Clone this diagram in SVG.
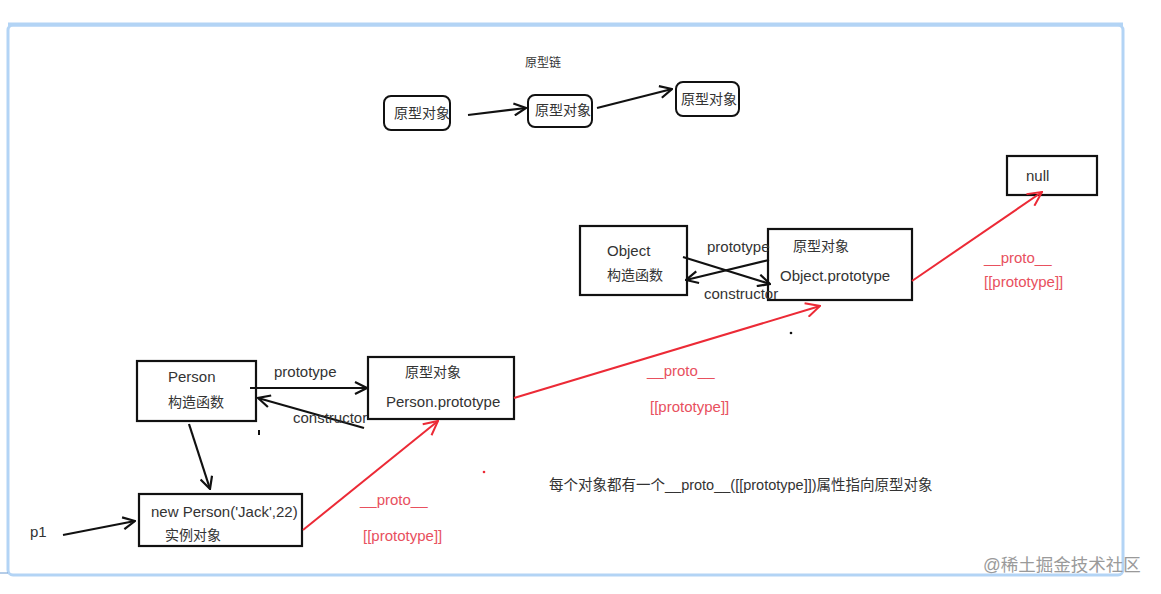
<svg xmlns="http://www.w3.org/2000/svg" width="1161" height="594" viewBox="0 0 1161 594">
<style>
text{font-family:"Liberation Sans","Noto Sans CJK SC",sans-serif;font-size:14px;fill:#333}
.l{font-size:15px}
.r{fill:#e8505e;font-size:15px}
.box{fill:#fff;stroke:#111;stroke-width:2.2}
.rbox{fill:#fff;stroke:#111;stroke-width:2;}
.k{fill:none;stroke:#111;stroke-width:2.2}
.red{fill:none;stroke:#ec2a36;stroke-width:2}
</style>
<defs>
<marker id="ak" viewBox="0 0 14 14" refX="13" refY="7" markerWidth="14" markerHeight="14" markerUnits="userSpaceOnUse" orient="auto">
<path d="M1,1 L13,7 L1,13" fill="none" stroke="#111" stroke-width="2.2"/>
</marker>
<marker id="ar" viewBox="0 0 16 16" refX="15" refY="8" markerWidth="16" markerHeight="16" markerUnits="userSpaceOnUse" orient="auto">
<path d="M1,1 L15,8 L1,15" fill="none" stroke="#ec2a36" stroke-width="2"/>
</marker>
</defs>
<rect width="1161" height="594" fill="#fff"/>
<rect x="8" y="25" width="1115" height="550" rx="5" fill="#fff" stroke="#b3d4f5" stroke-width="3"/>
<line x1="8" y1="24.5" x2="1123" y2="24.5" stroke="#b3d4f5" stroke-width="4"/>
<line x1="0" y1="573" x2="8" y2="573" stroke="#6a9ad0" stroke-width="1"/>

<text x="525" y="67" style="font-size:12px">原型链</text>

<g id="chain1"><rect class="rbox" x="384" y="96" width="66" height="34" rx="7"/><text x="394" y="118">原型对象</text></g>
<g id="chain2"><rect class="rbox" x="528" y="95" width="64" height="32" rx="7"/><text x="535" y="115">原型对象</text></g>
<g id="chain3"><rect class="rbox" x="676" y="82" width="63" height="34" rx="7"/><text x="681" y="104">原型对象</text></g>

<g id="null"><rect class="box" x="1007" y="156" width="90" height="39"/><text class="l" x="1026" y="181">null</text></g>
<g id="Object"><rect class="box" x="580" y="226" width="107" height="69"/><text class="l" x="607" y="256">Object</text><text x="607" y="280">构造函数</text></g>
<g id="ObjectPrototype"><rect class="box" x="768" y="229" width="144" height="71"/><text x="793" y="251">原型对象</text><text class="l" x="780" y="281">Object.prototype</text></g>
<g id="Person"><rect class="box" x="137" y="361" width="119" height="60"/><text class="l" x="168" y="382">Person</text><text x="168" y="407">构造函数</text></g>
<g id="PersonPrototype"><rect class="box" x="368" y="357" width="146" height="62"/><text x="405" y="377">原型对象</text><text class="l" x="386" y="407">Person.prototype</text></g>
<g id="instance"><rect class="box" x="139" y="494" width="163" height="52"/><text class="l" x="151" y="517">new Person('Jack',22)</text><text x="165" y="540">实例对象</text></g>
<g id="p1"><text class="l" x="30" y="537">p1</text></g>

<g id="connectors">
<path class="k" d="M468,115 L526,108" marker-end="url(#ak)"/>
<path class="k" d="M597,108 L672,89" marker-end="url(#ak)"/>
<path class="k" d="M683,257 L770,284" marker-end="url(#ak)"/>
<path class="k" d="M769,260 L686,280" marker-end="url(#ak)"/>
<path class="k" d="M250,388 L367,388" marker-end="url(#ak)"/>
<path class="k" d="M364,428 L258,398" marker-end="url(#ak)"/>
<path class="k" d="M189,424 L210,489" marker-end="url(#ak)"/>
<path class="k" d="M63,535 L135,521" marker-end="url(#ak)"/>
<path class="red" d="M303,530 L438,421" marker-end="url(#ar)"/>
<path class="red" d="M514,398 L820,306" marker-end="url(#ar)"/>
<path class="red" d="M912,281 L1042,192" marker-end="url(#ar)"/>
</g>

<text class="l" x="707" y="252">prototype</text>
<text class="l" x="704" y="299">constructor</text>
<text class="l" x="274" y="377">prototype</text>
<text class="l" x="293" y="423">constructor</text>

<text class="r" x="360" y="505">__proto__</text>
<text class="r" x="363" y="541">[[prototype]]</text>
<text class="r" x="647" y="376">__proto__</text>
<text class="r" x="650" y="412">[[prototype]]</text>
<text class="r" x="984" y="263">__proto__</text>
<text class="r" x="984" y="287">[[prototype]]</text>

<text x="549" y="490" style="font-size:14.5px">每个对象都有一个__proto__([[prototype]])属性指向原型对象</text>

<rect x="258" y="430" width="2" height="5" fill="#111"/>
<circle cx="484" cy="472" r="1.3" fill="#ec2a36"/>
<circle cx="791" cy="333" r="1.3" fill="#111"/>

<text x="983" y="571" style="font-size:17.5px;fill:#9a9a9a">@稀土掘金技术社区</text>
</svg>
